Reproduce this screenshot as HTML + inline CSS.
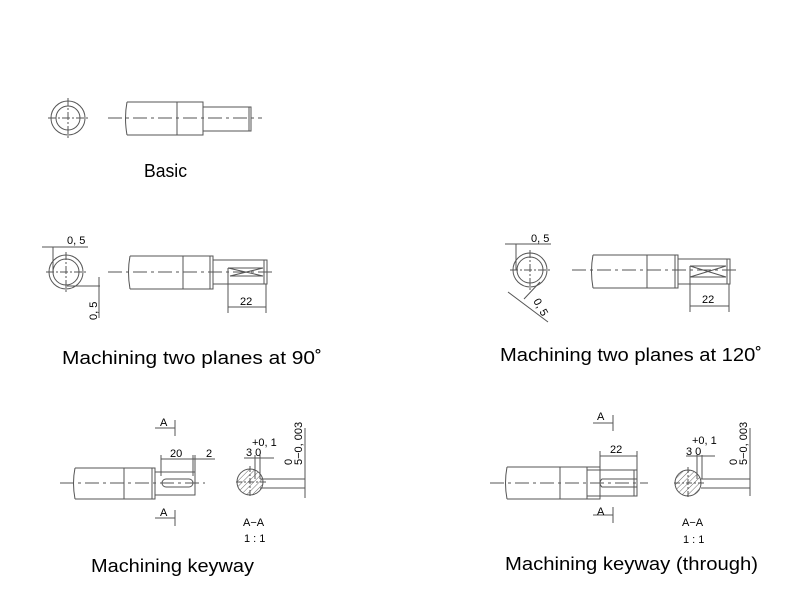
<!DOCTYPE html>
<html><head><style>
body{margin:0;background:#fff}
svg{display:block}
.t{font-family:"Liberation Sans",sans-serif;font-size:18px;fill:#000}
.s{font-family:"Liberation Sans",sans-serif;font-size:11px;fill:#000}
</style></head><body>
<svg width="800" height="600" viewBox="0 0 800 600" xmlns="http://www.w3.org/2000/svg">
<defs>
<pattern id="h" width="4" height="4" patternUnits="userSpaceOnUse" patternTransform="rotate(45)"><line x1="0" y1="0" x2="0" y2="4" stroke="#444" stroke-width="0.8"/></pattern>
</defs>
<g fill="none" stroke="#555" stroke-width="1">
<circle cx="68" cy="118" r="17"/><circle cx="68" cy="118" r="12"/>
<line x1="48" y1="118" x2="88" y2="118" stroke-dasharray="8,2,2,2"/>
<line x1="68" y1="98" x2="68" y2="138" stroke-dasharray="8,2,2,2"/>
<path d="M127 102 H203 V135 H127 M127 102 Q124 118 127 135"/>
<line x1="177" y1="102" x2="177" y2="135"/>
<path d="M203 107 H251 V131 H203"/><line x1="249" y1="107" x2="249" y2="131"/>
<line x1="108" y1="118" x2="262" y2="118" stroke-dasharray="14,4,3,4"/>

<circle cx="66" cy="272" r="17"/><circle cx="66" cy="272" r="13"/>
<line x1="46" y1="272" x2="86" y2="272" stroke-dasharray="8,2,2,2"/>
<line x1="66" y1="252" x2="66" y2="292" stroke-dasharray="8,2,2,2"/>
<line x1="53" y1="247" x2="53" y2="272"/><line x1="42" y1="247" x2="88" y2="247"/>
<line x1="67" y1="286" x2="100" y2="286"/><line x1="99" y1="277" x2="99" y2="318"/>
<path d="M130 256 H213 V289 H130 M130 256 Q127 272 130 289"/>
<line x1="183" y1="256" x2="183" y2="289"/><line x1="210" y1="256" x2="210" y2="289"/>
<path d="M213 260 H267 V284 H213"/><line x1="264" y1="260" x2="264" y2="284"/>
<line x1="228" y1="268" x2="228" y2="313"/><line x1="266" y1="284" x2="266" y2="313"/>
<path d="M228 268 H263 L230 276 L263 276"/><path d="M228 268 L263 276"/>
<line x1="228" y1="307" x2="266" y2="307"/>
<line x1="108" y1="272" x2="275" y2="272" stroke-dasharray="14,4,3,4"/>

<circle cx="530" cy="270" r="17"/><circle cx="530" cy="270" r="13"/>
<line x1="510" y1="270" x2="550" y2="270" stroke-dasharray="8,2,2,2"/>
<line x1="530" y1="250" x2="530" y2="290" stroke-dasharray="8,2,2,2"/>
<line x1="516" y1="244" x2="516" y2="270"/><line x1="505" y1="244" x2="551" y2="244"/>
<line x1="508" y1="292" x2="548" y2="322"/><line x1="524" y1="299" x2="540" y2="282"/>
<path d="M593 255 H678 V288 H593 M593 255 Q590 271 593 288"/>
<line x1="647" y1="255" x2="647" y2="288"/><line x1="675" y1="255" x2="675" y2="288"/>
<path d="M678 259 H730 V284 H678"/><line x1="727" y1="259" x2="727" y2="284"/>
<line x1="690" y1="266" x2="690" y2="312"/><line x1="729" y1="284" x2="729" y2="312"/>
<path d="M690 266 L726 277 M690 277 L726 266 M690 266 H726 M690 277 H726"/>
<line x1="690" y1="306" x2="729" y2="306"/>
<line x1="572" y1="270" x2="740" y2="270" stroke-dasharray="14,4,3,4"/>

<path d="M75 468 H155 V499 H75 M75 468 Q72 483 75 499"/>
<line x1="124" y1="468" x2="124" y2="499"/><line x1="152" y1="468" x2="152" y2="499"/>
<path d="M155 472 H195 V495 H155"/>
<rect x="162" y="479" width="31" height="8" rx="4"/>
<line x1="60" y1="483" x2="205" y2="483" stroke-dasharray="14,4,3,4"/>
<line x1="161" y1="455" x2="161" y2="476"/><line x1="193" y1="455" x2="193" y2="476"/><line x1="195" y1="455" x2="195" y2="476"/>
<line x1="161" y1="459" x2="215" y2="459"/>
<path d="M155 428 H175 M175 420 V436 M155 518 H175 M175 510 V526"/>
<circle cx="250" cy="482" r="13" fill="url(#h)"/>
<line x1="236" y1="482" x2="266" y2="482" stroke-dasharray="6,2,2,2"/>
<line x1="250" y1="466" x2="250" y2="498" stroke-dasharray="6,2,2,2"/>
<line x1="255" y1="455" x2="255" y2="479"/><line x1="260" y1="455" x2="260" y2="479"/>
<line x1="244" y1="458" x2="274" y2="458"/>
<line x1="260" y1="479" x2="305" y2="479"/><line x1="260" y1="488" x2="305" y2="488"/>
<line x1="305" y1="428" x2="305" y2="498"/>

<path d="M507 467 H600 V499 H507 M507 467 Q504 483 507 499"/>
<line x1="560" y1="467" x2="560" y2="499"/><line x1="587" y1="467" x2="587" y2="499"/>
<path d="M587 470 H637 V496 H587"/>
<path d="M637 479 H602 Q598 483 602 487 H637"/><line x1="634" y1="470" x2="634" y2="496"/>
<line x1="490" y1="483" x2="648" y2="483" stroke-dasharray="14,4,3,4"/>
<line x1="600" y1="451" x2="600" y2="476"/><line x1="637" y1="451" x2="637" y2="476"/>
<line x1="600" y1="456" x2="637" y2="456"/>
<path d="M593 423 H613 M613 415 V431 M593 515 H613 M613 507 V523"/>
<circle cx="688" cy="483" r="13" fill="url(#h)"/>
<line x1="674" y1="483" x2="704" y2="483" stroke-dasharray="6,2,2,2"/>
<line x1="688" y1="467" x2="688" y2="499" stroke-dasharray="6,2,2,2"/>
<line x1="697" y1="455" x2="697" y2="479"/><line x1="702" y1="455" x2="702" y2="479"/>
<line x1="686" y1="456" x2="715" y2="456"/>
<line x1="701" y1="479" x2="750" y2="479"/><line x1="701" y1="488" x2="750" y2="488"/>
<line x1="750" y1="428" x2="750" y2="496"/>
</g>
<g class="s">
<text x="67" y="244">0, 5</text>
<text transform="translate(97,320) rotate(-90)">0, 5</text>
<text x="240" y="305">22</text>
<text x="531" y="242">0, 5</text>
<text transform="translate(533,301) rotate(60)">0, 5</text>
<text x="702" y="303">22</text>
<text x="160" y="426">A</text><text x="160" y="516">A</text>
<text x="170" y="457">20</text><text x="206" y="457">2</text>
<text x="252" y="446">+0, 1</text><text x="246" y="456">3 0</text>
<text transform="translate(292,465) rotate(-90)">0</text>
<text transform="translate(302,465) rotate(-90)">5−0, 003</text>
<text x="243" y="526">A−A</text><text x="244" y="542">1 : 1</text>
<text x="597" y="420">A</text><text x="597" y="515">A</text>
<text x="610" y="453">22</text>
<text x="692" y="444">+0, 1</text><text x="686" y="455">3 0</text>
<text transform="translate(737,465) rotate(-90)">0</text>
<text transform="translate(747,465) rotate(-90)">5−0, 003</text>
<text x="682" y="526">A−A</text><text x="683" y="543">1 : 1</text>
</g>
<g class="t">
<text x="144" y="177" textLength="43" lengthAdjust="spacingAndGlyphs">Basic</text>
<text x="62" y="364" textLength="260" lengthAdjust="spacingAndGlyphs">Machining two planes at 90˚</text>
<text x="500" y="361" textLength="262" lengthAdjust="spacingAndGlyphs">Machining two planes at 120˚</text>
<text x="91" y="572" textLength="163" lengthAdjust="spacingAndGlyphs">Machining keyway</text>
<text x="505" y="570" textLength="253" lengthAdjust="spacingAndGlyphs">Machining keyway (through)</text>
</g>
</svg>
</body></html>
